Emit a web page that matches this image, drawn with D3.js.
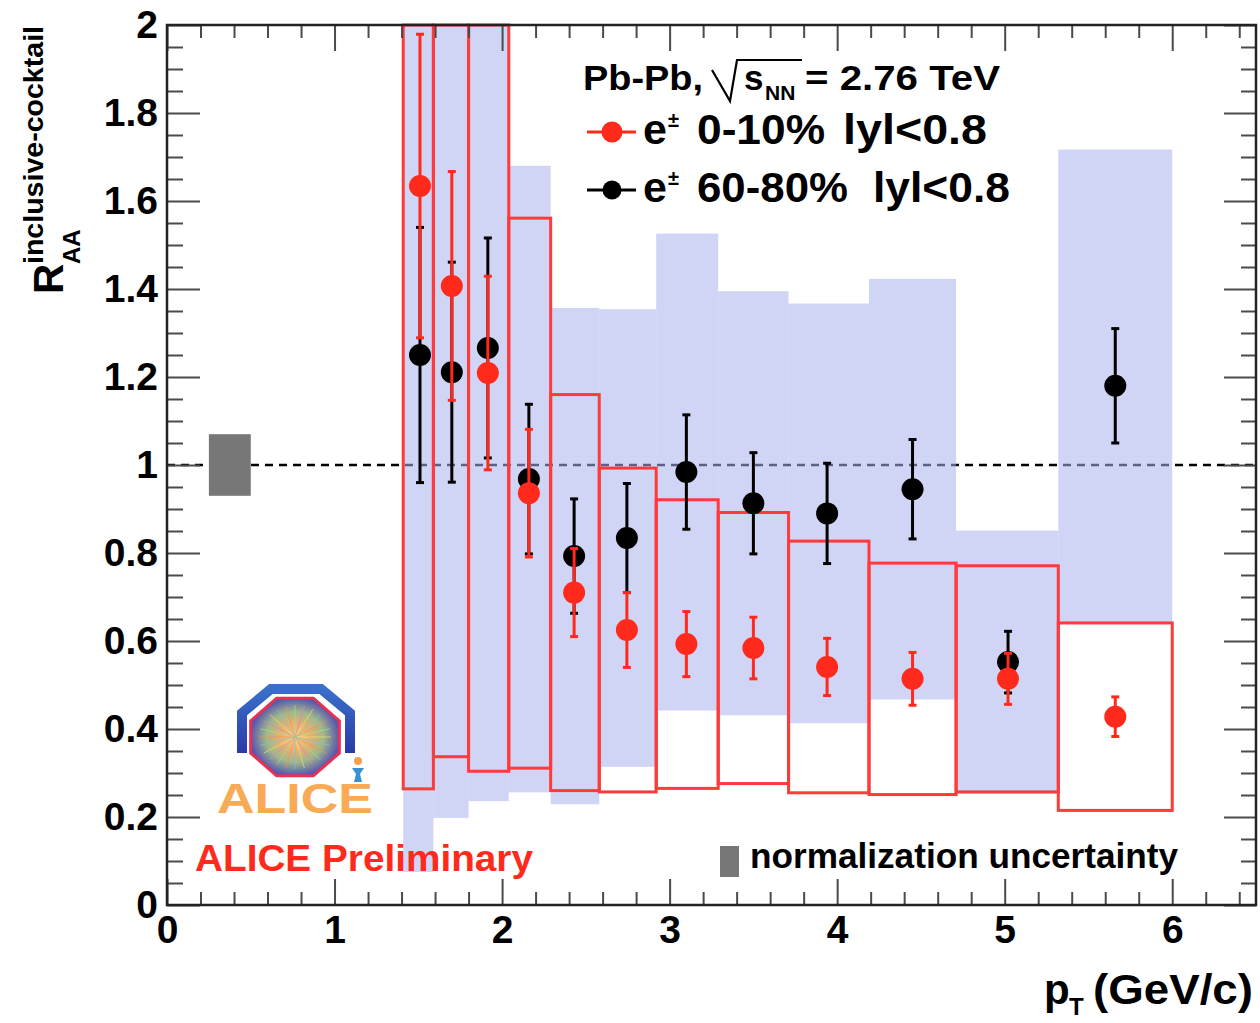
<!DOCTYPE html>
<html>
<head>
<meta charset="utf-8">
<script src="https://cdn.jsdelivr.net/npm/d3@7"></script>
<style>
  body { margin: 0; background: #fff; }
  svg { display: block; }
  text { font-family: "Liberation Sans", Arial, Helvetica, sans-serif; font-weight: bold; }
</style>
</head>
<body>
<svg id="chart" width="1260" height="1023"></svg>
<script>
// pT bin edges (GeV/c) shared by both centrality classes
const binEdges = [1.41, 1.59, 1.80, 2.04, 2.29, 2.58, 2.92, 3.29, 3.71, 4.19, 4.71, 5.32, 6.00];
// bin centres where the points sit
const ptCentres = [1.51, 1.70, 1.915, 2.16, 2.43, 2.745, 3.10, 3.50, 3.94, 4.45, 5.02, 5.66];

// 0-10% central collisions
const raa010     = [1.634, 1.407, 1.209, 0.936, 0.710, 0.625, 0.593, 0.584, 0.541, 0.514, 0.514, 0.428];
const raa010Stat = [0.345, 0.260, 0.220, 0.145, 0.100, 0.085, 0.074, 0.070, 0.065, 0.060, 0.058, 0.045];
const raa010Sys  = [1.370, 1.070, 0.905, 0.625, 0.450, 0.368, 0.328, 0.308, 0.286, 0.263, 0.257, 0.213];

// 60-80% peripheral collisions
const raa6080     = [1.250, 1.211, 1.266, 0.968, 0.793, 0.834, 0.984, 0.913, 0.890, 0.945, 0.552, 1.180];
const raa6080Stat = [0.290, 0.250, 0.250, 0.170, 0.130, 0.124, 0.130, 0.115, 0.114, 0.113, 0.070, 0.130];
const raa6080Sys  = [1.175, 1.013, 1.030, 0.712, 0.564, 0.520, 0.542, 0.482, 0.477, 0.478, 0.299, 0.537];

// global normalisation uncertainty on R_AA
const normUncertainty = 0.07;

// axis ticks
const xTickValues = [0, 1, 2, 3, 4, 5, 6];
const xTickLabels = ["0", "1", "2", "3", "4", "5", "6"];
const yTickValues = [0, 0.2, 0.4, 0.6, 0.8, 1.0, 1.2, 1.4, 1.6, 1.8, 2.0];
const yTickLabels = ["0", "0.2", "0.4", "0.6", "0.8", "1", "1.2", "1.4", "1.6", "1.8", "2"];

const svg = d3.select("#chart");
const x = d3.scaleLinear().domain([0, 6.5]).range([167, 1256]);
const y = d3.scaleLinear().domain([0, 2]).range([905, 25]).clamp(true);

const RED = "#ff2a1c";
const BOX_RED = "#ff3a3a";

const bins = ptCentres.map((pt, i) => ({
  lo: binEdges[i], hi: binEdges[i + 1], pt,
  c: raa010[i], cStat: raa010Stat[i], cSys: raa010Sys[i],
  p: raa6080[i], pStat: raa6080Stat[i], pSys: raa6080Sys[i]
}));

// reference line at unity
svg.append("line")
  .attr("x1", x(0)).attr("x2", x(6.5)).attr("y1", y(1)).attr("y2", y(1))
  .attr("stroke", "#000").attr("stroke-width", 2.5).attr("stroke-dasharray", "8,6");

// systematic uncertainty bands, 60-80% (translucent fill)
svg.append("g").selectAll("rect").data(bins).join("rect")
  .attr("x", d => x(d.lo)).attr("width", d => x(d.hi) - x(d.lo))
  .attr("y", d => y(d.p + d.pSys)).attr("height", d => y(d.p - d.pSys) - y(d.p + d.pSys))
  .attr("fill", "rgb(170,178,238)").attr("fill-opacity", 0.55);

// systematic uncertainty boxes, 0-10% (open)
svg.append("g").selectAll("rect").data(bins).join("rect")
  .attr("x", d => x(d.lo)).attr("width", d => x(d.hi) - x(d.lo))
  .attr("y", d => y(d.c + d.cSys)).attr("height", d => y(d.c - d.cSys) - y(d.c + d.cSys))
  .attr("fill", "none").attr("stroke", BOX_RED).attr("stroke-width", 3);

// normalisation uncertainty box at unity
svg.append("rect")
  .attr("x", x(0.25)).attr("width", x(0.5) - x(0.25))
  .attr("y", y(1 + normUncertainty)).attr("height", y(1 - normUncertainty) - y(1 + normUncertainty))
  .attr("fill", "#777");

// points with statistical error bars
function drawSeries(cls, getV, getE, color, r) {
  const g = svg.append("g").attr("class", cls);
  const items = g.selectAll("g").data(bins).join("g");
  items.append("line")
    .attr("x1", d => x(d.pt)).attr("x2", d => x(d.pt))
    .attr("y1", d => y(getV(d) + getE(d))).attr("y2", d => y(getV(d) - getE(d)))
    .attr("stroke", color).attr("stroke-width", 3);
  [1, -1].forEach(s => {
    items.append("line")
      .attr("x1", d => x(d.pt) - 4).attr("x2", d => x(d.pt) + 4)
      .attr("y1", d => y(getV(d) + s * getE(d))).attr("y2", d => y(getV(d) + s * getE(d)))
      .attr("stroke", color).attr("stroke-width", 3);
  });
  items.append("circle")
    .attr("cx", d => x(d.pt)).attr("cy", d => y(getV(d))).attr("r", r)
    .attr("fill", color);
}
drawSeries("periph", d => d.p, d => d.pStat, "#000", 11);
drawSeries("central", d => d.c, d => d.cStat, RED, 11);

// axes: major and minor ticks on all four sides, pointing inwards
function styleAxis(g) {
  g.select(".domain").remove();
  g.selectAll(".tick line").attr("stroke", "#4a4a4a").attr("stroke-width", 2);
  g.selectAll("text").attr("fill", "#000").attr("font-size", 39).attr("font-weight", "bold")
    .attr("font-family", '"Liberation Sans", Arial, sans-serif');
}
const xMinor = d3.range(0, 6.51, 0.2).filter(v => Math.abs(v - Math.round(v)) > 1e-6);
const yMinor = d3.range(0, 2.001, 0.05).filter(v => Math.abs(v / 0.2 - Math.round(v / 0.2)) > 1e-6);

svg.append("g").attr("transform", `translate(0,${y(0)})`)
  .call(d3.axisBottom(x).tickValues(xTickValues).tickSize(-26).tickSizeOuter(0).tickPadding(10)
    .tickFormat((d, i) => xTickLabels[i])).call(styleAxis);
svg.append("g").attr("transform", `translate(0,${y(0)})`)
  .call(d3.axisBottom(x).tickValues(xMinor).tickSize(-13).tickSizeOuter(0).tickFormat("")).call(styleAxis);
svg.append("g").attr("transform", `translate(0,${y(2)})`)
  .call(d3.axisTop(x).tickValues(xTickValues).tickSize(-26).tickSizeOuter(0).tickFormat("")).call(styleAxis);
svg.append("g").attr("transform", `translate(0,${y(2)})`)
  .call(d3.axisTop(x).tickValues(xMinor).tickSize(-13).tickSizeOuter(0).tickFormat("")).call(styleAxis);

svg.append("g").attr("transform", `translate(${x(0)},0)`)
  .call(d3.axisLeft(y).tickValues(yTickValues).tickSize(-33).tickSizeOuter(0).tickPadding(9)
    .tickFormat((d, i) => yTickLabels[i])).call(styleAxis);
svg.append("g").attr("transform", `translate(${x(0)},0)`)
  .call(d3.axisLeft(y).tickValues(yMinor).tickSize(-16).tickSizeOuter(0).tickFormat("")).call(styleAxis);
svg.append("g").attr("transform", `translate(${x(6.5)},0)`)
  .call(d3.axisRight(y).tickValues(yTickValues).tickSize(-32).tickSizeOuter(0).tickFormat("")).call(styleAxis);
svg.append("g").attr("transform", `translate(${x(6.5)},0)`)
  .call(d3.axisRight(y).tickValues(yMinor).tickSize(-15).tickSizeOuter(0).tickFormat("")).call(styleAxis);

// frame
svg.append("rect")
  .attr("x", x(0)).attr("y", y(2)).attr("width", x(6.5) - x(0)).attr("height", y(0) - y(2))
  .attr("fill", "none").attr("stroke", "#222").attr("stroke-width", 2.5);

// axis titles
const yt = svg.append("g").attr("transform", "rotate(-90)");
yt.append("text").attr("x", -294).attr("y", 63).attr("font-size", 42).text("R");
yt.append("text").attr("x", -264).attr("y", 80).attr("font-size", 24).text("AA");
yt.append("text").attr("x", -264).attr("y", 43).attr("font-size", 28)
  .attr("textLength", 238).attr("lengthAdjust", "spacingAndGlyphs").text("inclusive-cocktail");

svg.append("text").attr("x", 1044).attr("y", 1004).attr("font-size", 42).text("p");
svg.append("text").attr("x", 1069).attr("y", 1015).attr("font-size", 24).text("T");
svg.append("text").attr("x", 1093).attr("y", 1004).attr("font-size", 42)
  .attr("textLength", 160).attr("lengthAdjust", "spacingAndGlyphs").text("(GeV/c)");

// header and legend
function fitText(xp, yp, size, len, str, fill) {
  return svg.append("text").attr("x", xp).attr("y", yp).attr("font-size", size)
    .attr("fill", fill || "#000")
    .attr("textLength", len).attr("lengthAdjust", "spacingAndGlyphs").text(str);
}
fitText(583, 90, 35, 120, "Pb-Pb,");
svg.append("path").attr("d", "M712,70 L730,101 L737,60 L802,60")
  .attr("fill", "none").attr("stroke", "#000").attr("stroke-width", 2.2);
svg.append("text").attr("x", 744).attr("y", 90).attr("font-size", 35).text("s");
svg.append("text").attr("x", 765).attr("y", 100).attr("font-size", 21).text("NN");
fitText(805, 90, 35, 195, "= 2.76 TeV");

const legendRows = [
  { color: RED, r: 10.5, y: 132, label: "0-10%", labelLen: 128, cutX: 843, cutLen: 144 },
  { color: "#000", r: 9.5, y: 190, label: "60-80%", labelLen: 151, cutX: 873, cutLen: 137 }
];
legendRows.forEach(row => {
  svg.append("line").attr("x1", 587).attr("x2", 636).attr("y1", row.y).attr("y2", row.y)
    .attr("stroke", row.color).attr("stroke-width", 3);
  svg.append("circle").attr("cx", 612).attr("cy", row.y).attr("r", row.r).attr("fill", row.color);
  svg.append("text").attr("x", 643).attr("y", row.y + 12).attr("font-size", 43).text("e");
  svg.append("text").attr("x", 668).attr("y", row.y - 5).attr("font-size", 20).text("±");
  fitText(697, row.y + 12, 43, row.labelLen, row.label);
  fitText(row.cutX, row.y + 12, 43, row.cutLen, "lyl<0.8");
});

// experiment label and logo
fitText(195, 871, 37, 338, "ALICE Preliminary", RED);
svg.append("rect").attr("x", 720).attr("y", 846).attr("width", 19).attr("height", 31).attr("fill", "#777");
fitText(750, 868, 35, 428, "normalization uncertainty");

const defs = svg.append("defs");
const rg = defs.append("radialGradient").attr("id", "burst");
[["0%", "#ffd070"], ["35%", "#e8b070"], ["65%", "#9fb88a"], ["100%", "#5a56b0"]].forEach(([o, c]) =>
  rg.append("stop").attr("offset", o).attr("stop-color", c));
const lg = defs.append("linearGradient").attr("id", "arch").attr("x1", 0).attr("y1", 0).attr("x2", 0).attr("y2", 1);
[["0%", "#3a70c8"], ["100%", "#2a3aa8"]].forEach(([o, c]) =>
  lg.append("stop").attr("offset", o).attr("stop-color", c));

const logo = svg.append("g");
logo.append("path").attr("d", "M242,753 L242,713 L271,689 L321,689 L350,713 L350,753")
  .attr("fill", "none").attr("stroke", "url(#arch)").attr("stroke-width", 10).attr("stroke-linejoin", "miter");
const oct = d3.range(8).map(k => {
  const a = (22.5 + 45 * k) * Math.PI / 180;
  return [295 + 48 * Math.cos(a), 737 + 42 * Math.sin(a)];
});
logo.append("polygon").attr("points", oct.map(p => p.join(",")).join(" "))
  .attr("fill", "url(#burst)").attr("stroke", "#e83050").attr("stroke-width", 3);
const rayColours = ["#f0e070", "#80c0e0", "#f09060", "#a0e090", "#d080d0"];
d3.range(0, 360, 15).forEach((deg, i) => {
  const a = deg * Math.PI / 180;
  logo.append("line").attr("x1", 295).attr("y1", 737)
    .attr("x2", 295 + 36 * Math.cos(a)).attr("y2", 737 + 32 * Math.sin(a))
    .attr("stroke", rayColours[i % rayColours.length]).attr("stroke-width", 1).attr("opacity", 0.7);
});
logo.append("circle").attr("cx", 358).attr("cy", 761).attr("r", 4).attr("fill", "#f4a050");
logo.append("path").attr("d", "M352,768 L364,768 L360,774 L362,782 L354,782 L356,774 Z").attr("fill", "#3a90d0");
logo.append("text").attr("x", 217).attr("y", 813).attr("font-size", 42).attr("fill", "#f9aa55")
  .attr("textLength", 156).attr("lengthAdjust", "spacingAndGlyphs").text("ALICE");
</script>
</body>
</html>
